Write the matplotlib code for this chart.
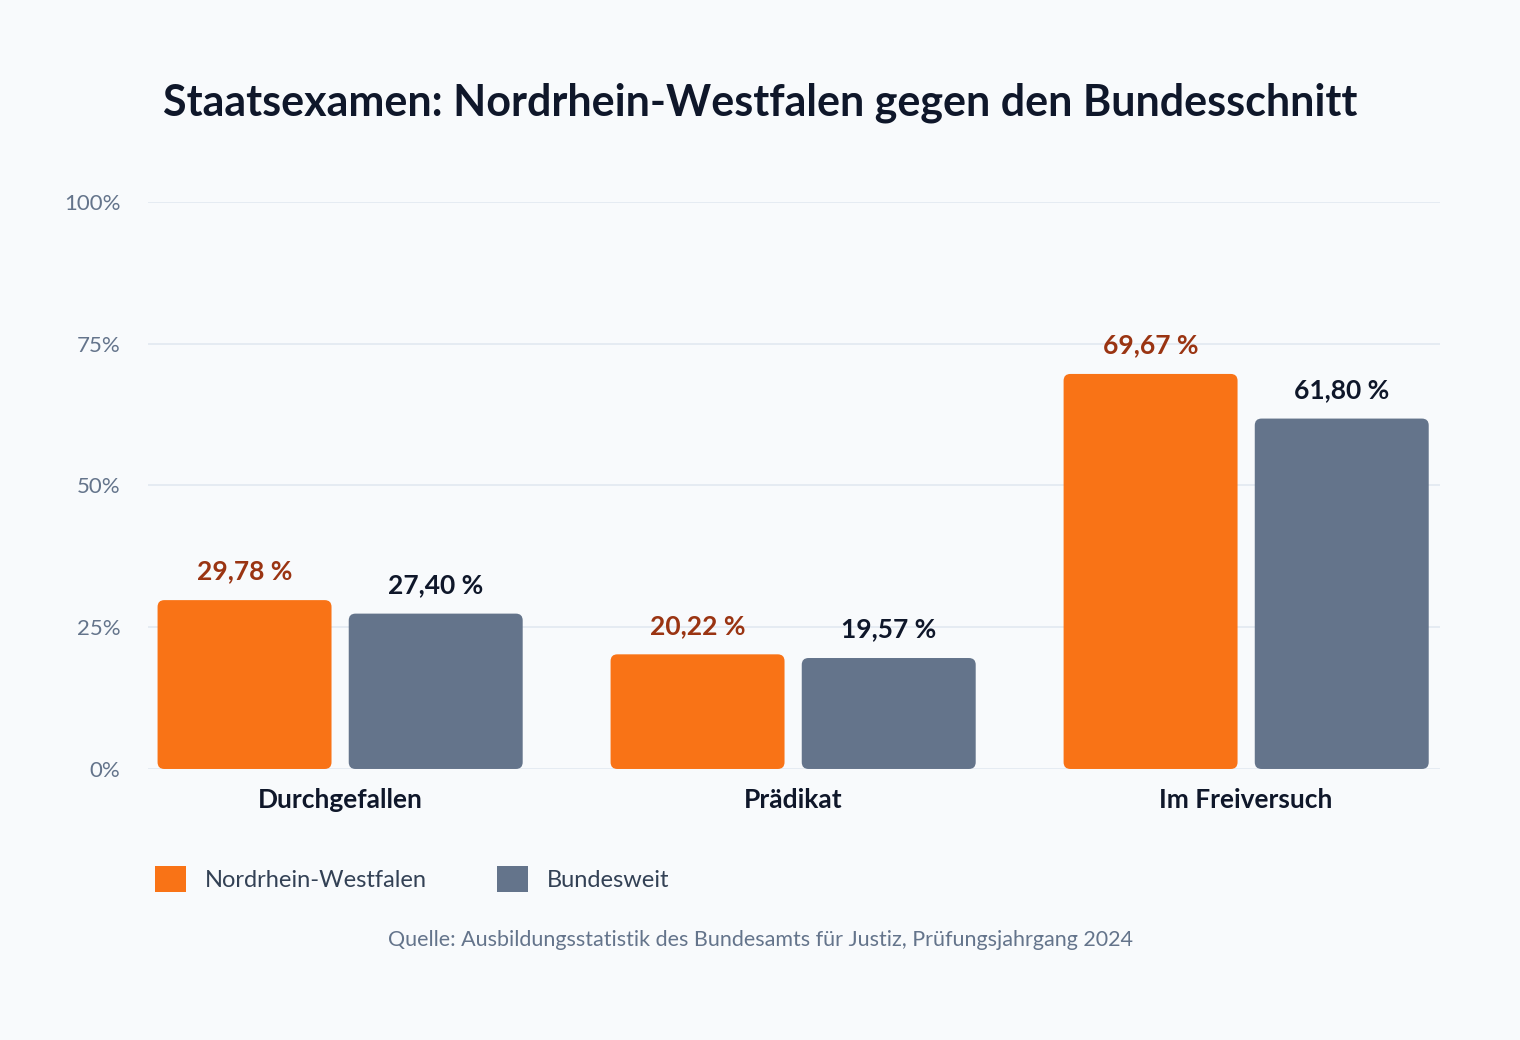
import matplotlib
matplotlib.use("Agg")
import matplotlib.pyplot as plt
from matplotlib.patches import FancyBboxPatch, Patch
import numpy as np

categories = ["Durchgefallen", "Prädikat", "Im Freiversuch"]
nrw = [29.78, 20.22, 69.67]
bund = [27.40, 19.57, 61.80]
nrw_labels = ["29,78 %", "20,22 %", "69,67 %"]
bund_labels = ["27,40 %", "19,57 %", "61,80 %"]
yticks = [0, 25, 50, 75, 100]
ytick_labels = ["0%", "25%", "50%", "75%", "100%"]

plt.rcParams['font.family'] = ['Lato', 'DejaVu Sans']
BG = "#F8FAFC"; ORANGE = "#F97316"; GREY = "#64748B"
fig = plt.figure(figsize=(15.2, 10.4), dpi=100, facecolor=BG)
ax = fig.add_axes([0.0974, 0.2606, 0.8500, 0.5452], facecolor=BG)
ax.set_xlim(-0.424, 2.428)
ax.set_ylim(0, 100)

x = np.arange(len(categories))
w = 0.384
off = 0.211
aspect = (100 / 567) / (1 / 453)

def rounded(bars, color):
    for b in bars:
        b.set_visible(False)
        fb = FancyBboxPatch((b.get_x(), b.get_y()), b.get_width(), b.get_height(),
                            boxstyle="round,pad=0,rounding_size=0.015",
                            mutation_aspect=aspect, facecolor=color, edgecolor="none", zorder=3)
        ax.add_patch(fb)

b1 = ax.bar(x - off, nrw, w)
b2 = ax.bar(x + off, bund, w)
rounded(b1, ORANGE); rounded(b2, GREY)

for xi, v, l in zip(x, nrw, nrw_labels):
    ax.annotate(l, (xi - off, v), xytext=(0, 12), textcoords="offset points", ha="center",
                va="bottom", fontsize=19, fontweight="bold", color="#9A3412")
for xi, v, l in zip(x, bund, bund_labels):
    ax.annotate(l, (xi + off, v), xytext=(0, 12), textcoords="offset points", ha="center",
                va="bottom", fontsize=19, fontweight="bold", color="#0F172A")

ax.set_yticks(yticks)
ax.set_yticklabels(ytick_labels, fontsize=16, color=GREY)
ax.set_xticks(x)
ax.set_xticklabels(categories, fontsize=19, fontweight="bold", color="#0F172A")
ax.tick_params(axis="both", length=0)
ax.tick_params(axis="x", pad=14)
ax.tick_params(axis="y", pad=20)
ax.grid(axis="y", color="#E2E8F0", linewidth=1.2, zorder=0)
ax.set_axisbelow(True)
for s in ax.spines.values():
    s.set_visible(False)

fig.text(0.5, 0.901, "Staatsexamen: Nordrhein-Westfalen gegen den Bundesschnitt",
         ha="center", va="center", fontsize=31, fontweight="bold", color="#0F172A")

handles = [Patch(facecolor=ORANGE, label="Nordrhein-Westfalen"),
           Patch(facecolor=GREY, label="Bundesweit")]
fig.legend(handles=handles, loc="center left", bbox_to_anchor=(0.088, 0.155), ncol=2,
           frameon=False, fontsize=17, labelcolor="#334155", handlelength=1.3, handleheight=1.3,
           columnspacing=3.0, handletextpad=0.8)

fig.text(0.5, 0.096, "Quelle: Ausbildungsstatistik des Bundesamts für Justiz, Prüfungsjahrgang 2024",
         ha="center", va="center", fontsize=15.5, color=GREY)

fig.savefig("out.png", dpi=100, facecolor=BG)
